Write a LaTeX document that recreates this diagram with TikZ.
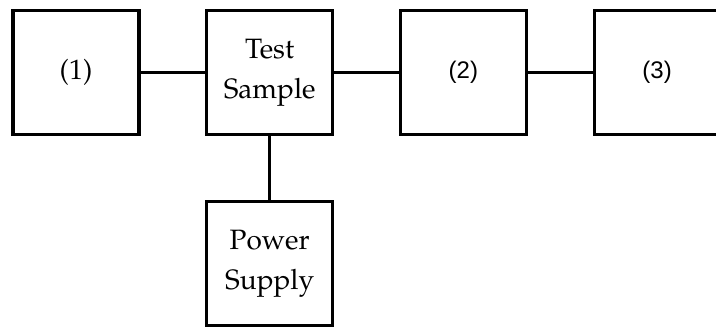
\documentclass[tikz,border=0pt]{standalone}
\usepackage[T1]{fontenc}
\usepackage{fontspec}
\usetikzlibrary{positioning}
\newfontfamily\arialfont{Liberation Sans}
\newcommand{\palfont}{\fontencoding{T1}\fontfamily{ppl}\selectfont}

\begin{document}
\begin{tikzpicture}[x=1pt,y=1pt,
	blockbox/.style={draw, line width=3.2pt, minimum width=126pt, minimum height=124pt, inner sep=0pt, align=center},
	wordtext/.style={font=\palfont\fontsize{28}{40}\selectfont},
	numtext/.style={font=\arialfont\fontsize{24}{28}\selectfont},
	wire/.style={line width=3.2pt}]
		\useasboundingbox (0,0) rectangle (716,329);
		% blocks in a row
		\node[blockbox, wordtext] (one) at (76,256.5) {(1)};
		\node[blockbox, wordtext, right=64.5pt of one] (sample) {Test\\Sample};
		\node[blockbox, numtext, right=64.5pt of sample] (two) {(2)};
		\node[blockbox, numtext, right=64.5pt of two] (three) {(3)};
		% supply below the sample
		\node[blockbox, wordtext, below=64pt of sample] (supply) {Power\\Supply};
		% wires
		\draw[wire] (one) -- (sample);
		\draw[wire] (sample) -- (two);
		\draw[wire] (two) -- (three);
		\draw[wire] (sample) -- (supply);
	\end{tikzpicture}
\end{document}
